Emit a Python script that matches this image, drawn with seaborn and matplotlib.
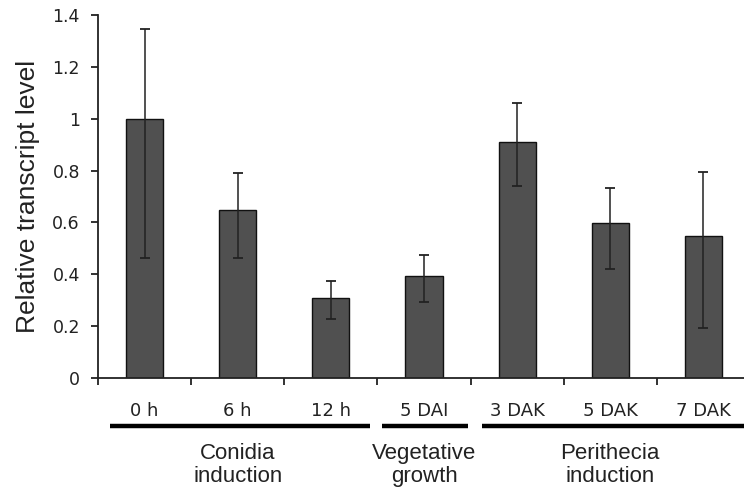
import matplotlib
matplotlib.use("Agg")
import matplotlib.pyplot as plt
import matplotlib.transforms as mtransforms
import numpy as np
import pandas as pd
import seaborn as sns

# ---- data ----
categories = ["0 h", "6 h", "12 h", "5 DAI", "3 DAK", "5 DAK", "7 DAK"]
values = [1.00, 0.647, 0.31, 0.393, 0.911, 0.597, 0.548]
err_upper = [1.346, 0.792, 0.374, 0.473, 1.059, 0.733, 0.794]
err_lower = [0.462, 0.462, 0.227, 0.294, 0.740, 0.419, 0.194]
y_ticks = [0, 0.2, 0.4, 0.6, 0.8, 1.0, 1.2, 1.4]
y_tick_labels = ["0", "0.2", "0.4", "0.6", "0.8", "1", "1.2", "1.4"]
groups = ["Conidia\ninduction", "Vegetative\ngrowth", "Perithecia\ninduction"]
group_centers = [1, 3, 5]
group_spans = [(-0.37, 2.42), (2.55, 3.47), (3.62, 6.45)]

df = pd.DataFrame({"cond": categories, "level": values})

sns.set_style("white")
plt.rcParams["font.family"] = ["DejaVu Sans"]

fig = plt.figure(figsize=(7.44, 4.91), dpi=100)
W, H = 744, 491
ax = fig.add_axes([98 / W, (H - 378) / H, 652 / W, 363 / H])

sns.barplot(data=df, x="cond", y="level", order=categories, color="#505050",
            edgecolor="#111111", linewidth=1.0, width=0.4, saturation=1,
            errorbar=None, ax=ax)

x = np.arange(len(categories))
v = np.array(values)
yerr = np.vstack([v - np.array(err_lower), np.array(err_upper) - v])
ax.errorbar(x, v, yerr=yerr, fmt="none", ecolor="#222222", elinewidth=1.1,
            capsize=3.6, capthick=1.3)

ax.set_xlim(-0.5, 6.5)
ax.set_ylim(0, 1.4)
ax.set_yticks(y_ticks)
ax.set_yticklabels(y_tick_labels, fontsize=12.5, color="#222222")
ax.set_xticks(x)
ax.set_xticklabels(categories, fontsize=13, color="#222222")
ax.set_xticks(np.arange(-0.5, 6.0, 1.0), minor=True)
ax.tick_params(axis="x", which="major", length=0, pad=17)
ax.tick_params(axis="x", which="minor", length=5, width=1.3, color="#222222",
               direction="out", bottom=True)
ax.tick_params(axis="y", length=5, width=1.3, color="#222222", direction="out",
               left=True, pad=8)
ax.set_xlabel("")
ax.set_ylabel("Relative transcript level", fontsize=19, family="Liberation Sans",
              color="#222222", labelpad=9)

sns.despine(ax=ax, top=True, right=True)
for s in ["left", "bottom"]:
    ax.spines[s].set_linewidth(1.3)
    ax.spines[s].set_color("#222222")

trans = mtransforms.blended_transform_factory(ax.transData, fig.transFigure)
line_y = (H - 426) / H
for (x0, x1) in group_spans:
    ax.plot([x0, x1], [line_y, line_y], transform=trans, color="black",
            linewidth=3.2, clip_on=False, solid_capstyle="butt")
for g, c in zip(groups, group_centers):
    ax.text(c, (H - 465) / H, g, transform=trans, ha="center", va="center",
            fontsize=16, family="Liberation Sans", color="#222222",
            linespacing=1.15)

fig.savefig("out.png", dpi=100)
